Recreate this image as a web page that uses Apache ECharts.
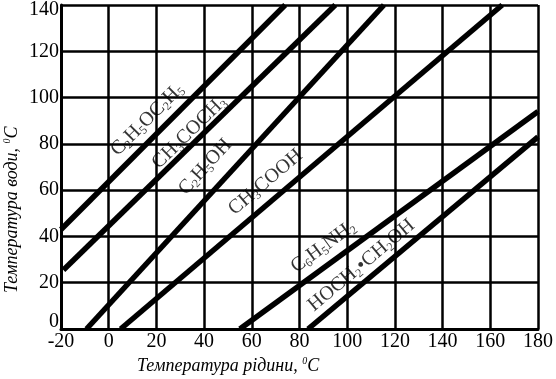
<!DOCTYPE html>
<html>
<head>
<meta charset="utf-8">
<script src="https://cdn.jsdelivr.net/npm/echarts@6/dist/echarts.min.js"></script>
<style>html,body{margin:0;padding:0;background:#fff}#c{width:556px;height:379px}</style>
</head>
<body>
<div id="c"></div>
<script>
// ---- data ----
const xTitle = 'Температура рідини, ';
const yTitle = 'Температура води, ';
const lineNames = ['C2H5OC2H5', 'CH3COCH3', 'C2H5OH', 'CH3COOH', 'C6H5NH2', 'HOCH2•CH2OH'];
const etherLine   = [[-20, 43], [74, 140]];
const acetoneLine = [[-19, 25.5], [95, 140]];
const ethanolLine = [[-9.3, 0], [115.4, 140]];
const aceticLine  = [[5, 0], [165, 140]];
const anilineLine = [[55, 0], [180, 94]];
const glycolLine  = [[83.6, 0], [180, 83]];
const lines = [etherLine, acetoneLine, ethanolLine, aceticLine, anilineLine, glycolLine];
// label anchor points (data units)
const labelAnchors = [[16.2, 90.5], [33.8, 84.9], [40.5, 70], [65.8, 63.4], [90, 35.5], [106, 27.5]];
const labelTexts = [
  '{b|C}{s|2}{b|H}{s|5}{b|OC}{s|2}{b|H}{s|5}',
  '{b|CH}{s|3}{b|COCH}{s|3}',
  '{b|C}{s|2}{b|H}{s|5}{b|OH}',
  '{b|CH}{s|3}{b|COOH}',
  '{b|C}{s|6}{b|H}{s|5}{b|NH}{s|2}',
  '{b|HOCH}{s|2}{b|•CH}{s|2}{b|OH}'
];

const FONT = '"Liberation Serif", "Times New Roman", serif';
const chart = echarts.init(document.getElementById('c'), null, {renderer: 'canvas'});

const richLbl = {
  b: {fontFamily: FONT, fontSize: 20, color: '#000', lineHeight: 22},
  s: {fontFamily: FONT, fontSize: 12, color: '#000', lineHeight: 12, verticalAlign: 'bottom'}
};

function baseOption() {
  return {
    animation: false,
    backgroundColor: '#fff',
    grid: {left: 61, right: 9, top: 4, bottom: 50, containLabel: false},
    xAxis: {
      type: 'value', min: -20, max: 180, interval: 20,
      axisLine: {show: true, onZero: false, lineStyle: {color: '#000', width: 3}},
      axisTick: {show: false},
      splitLine: {show: true, lineStyle: {color: '#000', width: 2.5}},
      axisLabel: {color: '#000', fontFamily: FONT, fontSize: 20, margin: 3}
    },
    yAxis: {
      type: 'value', min: 0, max: 140, interval: 20,
      axisLine: {show: true, onZero: false, lineStyle: {color: '#000', width: 3}},
      axisTick: {show: false},
      splitLine: {show: true, lineStyle: {color: '#000', width: 2.5}},
      axisLabel: {
        color: '#000', fontFamily: FONT, fontSize: 20, margin: 2,
        formatter: function (v) {
          if (v === 0) return '{lo|0}';
          if (v === 140) return '{hi|140}';
          return String(v);
        },
        rich: {
          lo: {fontFamily: FONT, fontSize: 20, color: '#000', padding: [0, 0, 14, 0]},
          hi: {fontFamily: FONT, fontSize: 20, color: '#000', padding: [10, 0, 0, 0]}
        }
      }
    },
    graphic: [
      {
        type: 'text', left: 137, top: 356,
        style: {
          text: '{i|' + xTitle + '}{p|0}{i|C}',
          rich: {
            i: {fontFamily: FONT, fontStyle: 'italic', fontSize: 18, fill: '#000', lineHeight: 20},
            p: {fontFamily: FONT, fontStyle: 'italic', fontSize: 10, fill: '#000', lineHeight: 10, verticalAlign: 'top', padding: [0, 0, 8, 0]}
          }
        }
      },
      {
        type: 'text', x: 2, y: 293, rotation: Math.PI / 2,
        style: {
          text: '{i|' + yTitle + '}{p|0}{i|C}',
          rich: {
            i: {fontFamily: FONT, fontStyle: 'italic', fontSize: 18, fill: '#000', lineHeight: 20},
            p: {fontFamily: FONT, fontStyle: 'italic', fontSize: 10, fill: '#000', lineHeight: 10, verticalAlign: 'top', padding: [0, 0, 8, 0]}
          }
        }
      }
    ],
    series: lines.map((d, i) => ({
      type: 'line', name: lineNames[i], data: d, showSymbol: false, symbol: 'none',
      lineStyle: {color: '#000', width: 5.5, cap: 'butt'}, silent: true, z: 5
    }))
  };
}

chart.setOption(baseOption());

// rotate labels along lines using the chart's own scales
const labelSeries = lines.map((d, i) => {
  const p1 = chart.convertToPixel({gridIndex: 0}, d[0]);
  const p2 = chart.convertToPixel({gridIndex: 0}, d[1]);
  const ang = Math.atan2(p1[1] - p2[1], p2[0] - p1[0]) * 180 / Math.PI;
  return {
    type: 'scatter', data: [labelAnchors[i]], symbolSize: 1,
    itemStyle: {color: 'rgba(0,0,0,0)'}, silent: true, z: 6,
    label: {
      show: true, position: 'inside', rotate: ang,
      formatter: labelTexts[i], rich: richLbl, backgroundColor: 'transparent'
    }
  };
});
const opt = baseOption();
opt.series = opt.series.concat(labelSeries);
chart.setOption(opt, true);
</script>
</body>
</html>
